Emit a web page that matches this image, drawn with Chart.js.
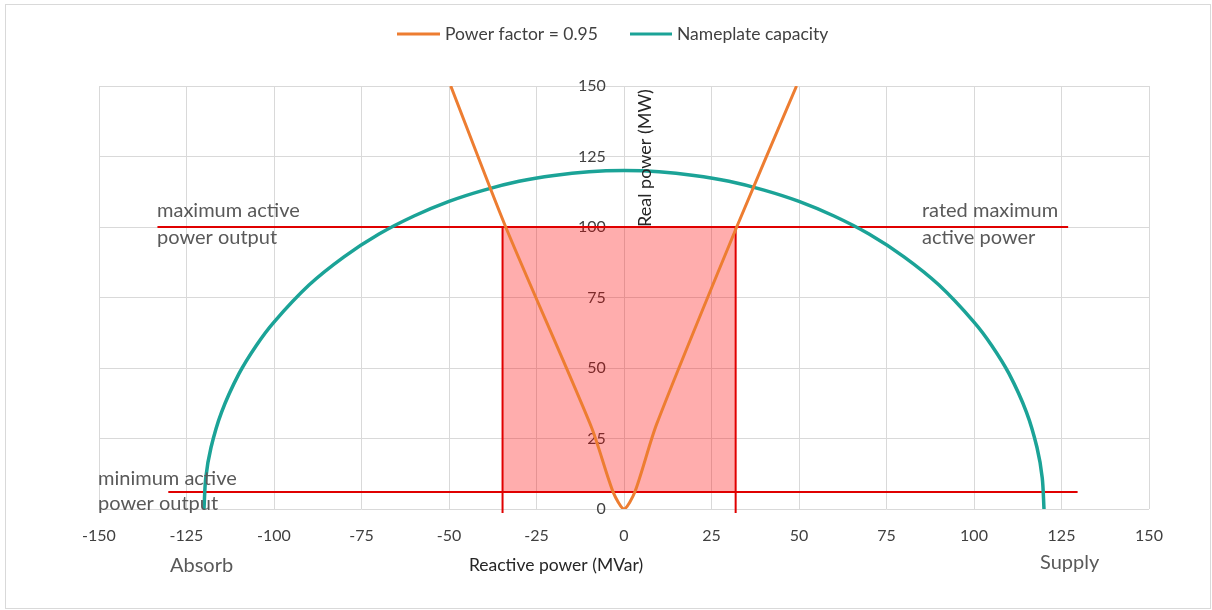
<!DOCTYPE html>
<html>
<head>
<meta charset="utf-8">
<script src="https://cdn.jsdelivr.net/npm/chart.js@4/dist/chart.umd.min.js"></script>
<style>
    html, body { margin: 0; padding: 0; background: #fff; }
    #wrap { width: 1212px; height: 610px; }
</style>
</head>
<body>
<div id="wrap"><canvas id="capChart" width="1212" height="610"></canvas></div>
<script>
// axis ticks
const reactiveTicks = [-150, -125, -100, -75, -50, -25, 0, 25, 50, 75, 100, 125, 150];
const realTicks = [0, 25, 50, 75, 100, 125, 150];

// power factor = 0.95 curve (MVar, MW)
const pfQ = [-49.5, -33.8, -9.3, -3.1, 0, 3.1, 9.3, 32.2, 49.3];
const pfP = [150, 100, 29, 6, 0, 6, 30, 100, 150];

// nameplate capacity curve
const capQ = [-120, -119.5, -118, -115, -110, -105, -100, -90, -80, -70, -60, -50, -40, -30, -20, -10,
    0, 10, 20, 30, 40, 50, 60, 70, 80, 90, 100, 105, 110, 115, 118, 119.5, 120];
const capP = [0, 11, 21.8, 34.3, 48, 58.1, 66.3, 79.4, 89.4, 97.5, 103.9, 109.1, 113.1, 116.2, 118.3, 119.6,
    120, 119.6, 118.3, 116.2, 113.1, 109.1, 103.9, 97.5, 89.4, 79.4, 66.3, 58.1, 48, 34.3, 21.8, 11, 0];

// limit lines
const maxLineQ = [-133.3, 126.9];
const maxLineP = [100, 100];
const minLineQ = [-130.2, 129.6];
const minLineP = [6, 6];
const boxLeftQ = [-34.7, -34.7];
const boxRightQ = [31.9, 31.9];
const boxSideP = [-1.4, 100];
const boxFillQ = [-34.7, 31.9];
const boxFillP = [100, 100];
const boxFillBase = 6;

const ORANGE = '#ed7d31';
const TEAL = '#1ba397';
const RED = '#e00000';
const FONT = 'Lato, "Open Sans", sans-serif';

function pts(xs, ys) {
    return xs.map((x, i) => ({ x: x, y: ys[i] }));
}

const extras = {
    id: 'extras',
    afterDraw(chart) {
        const ctx = chart.ctx;
        ctx.save();

        // outer border
        ctx.strokeStyle = '#d9d9d9';
        ctx.lineWidth = 1;
        ctx.strokeRect(5.5, 4.5, 1205, 604);

        // legend
        ctx.font = '17.5px ' + FONT;
        ctx.textBaseline = 'middle';
        ctx.textAlign = 'left';
        ctx.lineWidth = 3;
        ctx.strokeStyle = ORANGE;
        ctx.beginPath(); ctx.moveTo(397, 34); ctx.lineTo(440, 34); ctx.stroke();
        ctx.strokeStyle = TEAL;
        ctx.beginPath(); ctx.moveTo(630, 34); ctx.lineTo(672, 34); ctx.stroke();
        ctx.fillStyle = '#404040';
        ctx.fillText('Power factor = 0.95', 445, 34);
        ctx.fillText('Nameplate capacity', 677, 34);

        // axis titles
        ctx.fillStyle = '#262626';
        ctx.textAlign = 'center';
        ctx.textBaseline = 'alphabetic';
        ctx.fillText('Reactive power (MVar)', 556, 571);
        ctx.save();
        ctx.translate(645, 158);
        ctx.rotate(-Math.PI / 2);
        ctx.textBaseline = 'middle';
        ctx.font = '18px ' + FONT;
        ctx.fillText('Real power (MW)', 0, 0);
        ctx.restore();

        // annotations
        ctx.fillStyle = '#595959';
        ctx.font = '20px ' + FONT;
        ctx.textAlign = 'left';
        ctx.fillText('maximum active', 157, 217);
        ctx.fillText('power output', 157, 244);
        ctx.fillText('rated maximum', 922, 217);
        ctx.fillText('active power', 922, 244);
        ctx.fillText('minimum active', 98, 485);
        ctx.fillText('power output', 98, 510);
        ctx.fillText('Absorb', 170, 572);
        ctx.fillText('Supply', 1040, 569);

        ctx.restore();
    }
};

const redLine = (data) => ({
    data: data,
    showLine: true,
    borderColor: RED,
    borderWidth: 2,
    pointRadius: 0,
    clip: false,
    order: 5
});

new Chart(document.getElementById('capChart'), {
    type: 'scatter',
    data: {
        datasets: [
            {
                label: 'Power factor = 0.95',
                data: pts(pfQ, pfP),
                showLine: true,
                borderColor: ORANGE,
                backgroundColor: ORANGE,
                borderWidth: 3,
                pointRadius: 0,
                tension: 0.25,
                order: 1
            },
            {
                label: 'Nameplate capacity',
                data: pts(capQ, capP),
                showLine: true,
                borderColor: TEAL,
                backgroundColor: TEAL,
                borderWidth: 3.5,
                pointRadius: 0,
                tension: 0.3,
                order: 2
            },
            redLine(pts(maxLineQ, maxLineP)),
            redLine(pts(minLineQ, minLineP)),
            redLine(pts(boxLeftQ, boxSideP)),
            redLine(pts(boxRightQ, boxSideP)),
            {
                data: pts(boxFillQ, boxFillP),
                showLine: true,
                borderWidth: 0,
                pointRadius: 0,
                backgroundColor: 'rgba(255, 0, 0, 0.32)',
                fill: { value: boxFillBase },
                order: 10
            }
        ]
    },
    options: {
        responsive: false,
        animation: false,
        layout: { padding: { left: 99, right: 63, top: 86, bottom: 0 } },
        plugins: {
            legend: { display: false },
            tooltip: { enabled: false }
        },
        scales: {
            x: {
                type: 'linear',
                min: -150,
                max: 150,
                afterBuildTicks: (scale) => { scale.ticks = reactiveTicks.map(v => ({ value: v })); },
                afterFit: (scale) => { scale.height = 101; },
                grid: { color: '#d9d9d9', drawTicks: false },
                border: { display: false },
                ticks: { padding: 17, color: '#404040', font: { family: FONT, size: 16 }, maxRotation: 0 }
            },
            y: {
                type: 'linear',
                min: 0,
                max: 150,
                // labels sit just left of the zero line
                position: { x: -5.2 },
                afterBuildTicks: (scale) => { scale.ticks = realTicks.map(v => ({ value: v })); },
                grid: { color: '#d9d9d9', drawTicks: false },
                border: { display: false },
                ticks: { padding: 0, color: '#404040', font: { family: FONT, size: 16 } }
            }
        }
    },
    plugins: [extras]
});
</script>
</body>
</html>
